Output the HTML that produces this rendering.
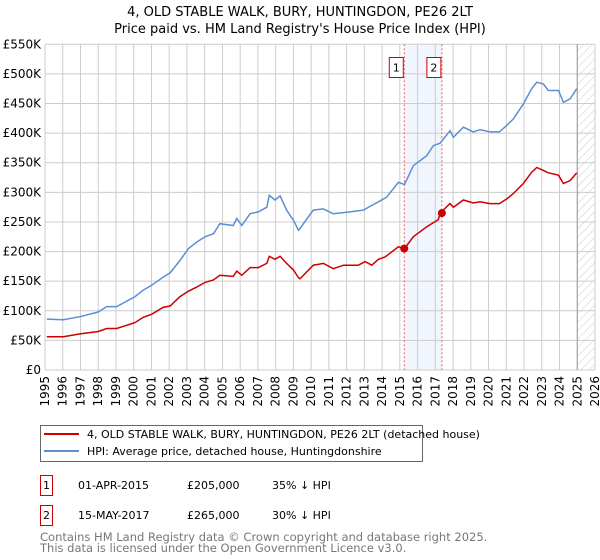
<!DOCTYPE html>
<html><head><meta charset="utf-8"><style>
body{margin:0;background:#fff;font-family:"Liberation Sans","DejaVu Sans",sans-serif;}
#wrap{position:relative;width:600px;height:560px;overflow:hidden;}
</style></head><body><div id="wrap">
<svg id="svg" width="600" height="560" xmlns="http://www.w3.org/2000/svg" font-family="DejaVu Sans, Liberation Sans, sans-serif">
<defs><pattern id="hatch" width="6" height="6" patternUnits="userSpaceOnUse" patternTransform="rotate(45)"><line x1="0" y1="0" x2="0" y2="6" stroke="#ccc" stroke-width="1"/></pattern></defs>
<text x="300" y="16" text-anchor="middle" font-size="13">4, OLD STABLE WALK, BURY, HUNTINGDON, PE26 2LT</text>
<text x="300" y="33" text-anchor="middle" font-size="13">Price paid vs. HM Land Registry's House Price Index (HPI)</text>
<g id="plot"></g>
<g>
<rect x="40.5" y="425.5" width="382" height="36" fill="#fff" stroke="#666"/>
<line x1="44" y1="434" x2="79" y2="434" stroke="#cc0000" stroke-width="2"/>
<text x="87" y="438" font-size="11">4, OLD STABLE WALK, BURY, HUNTINGDON, PE26 2LT (detached house)</text>
<line x1="44" y1="451" x2="79" y2="451" stroke="#5b8fd4" stroke-width="2"/>
<text x="87" y="455" font-size="11">HPI: Average price, detached house, Huntingdonshire</text>
</g>
<g font-size="11">
<rect x="40.5" y="475.5" width="12" height="20" fill="#fff" stroke="#cc0000"/><text x="46.5" y="489" text-anchor="middle">1</text>
<text x="78" y="489">01-APR-2015</text><text x="187" y="489">£205,000</text><text x="272" y="489">35% ↓ HPI</text>
<rect x="40.5" y="505.5" width="12" height="20" fill="#fff" stroke="#cc0000"/><text x="46.5" y="519" text-anchor="middle">2</text>
<text x="78" y="519">15-MAY-2017</text><text x="187" y="519">£265,000</text><text x="272" y="519">30% ↓ HPI</text>
</g>
<text x="40" y="541" font-size="11.5" fill="#777">Contains HM Land Registry data © Crown copyright and database right 2025.</text>
<text x="40" y="552" font-size="11.5" fill="#777">This data is licensed under the Open Government Licence v3.0.</text>
</svg></div>
<script>
const hpiYears=[1995.1,1996.03,1996.97,1998.0,1998.48,1999.04,2000.07,2000.54,2001.01,2001.67,2002.05,2002.61,2003.08,2003.55,2004.02,2004.49,2004.86,2005.61,2005.81,2006.09,2006.56,2007.02,2007.5,2007.64,2007.96,2008.25,2008.62,2009.0,2009.28,2009.37,2010.12,2010.69,2011.25,2012.19,2012.94,2013.42,2013.79,2014.26,2014.92,2015.26,2015.76,2016.52,2016.89,2017.27,2017.83,2018.02,2018.58,2019.14,2019.52,2020.08,2020.61,2021.03,2021.4,2021.96,2022.43,2022.72,2023.09,2023.37,2023.94,2024.22,2024.6,2024.97];
const hpiValues=[86,85,90,98,107,107,124,135,143,157,164,185,205,216,225,230,247,244,256,244,264,267,275,295,287,294,270,253,236,239,270,272,264,267,270,278,284,292,317,313,345,362,379,383,404,393,410,402,406,402,402,413,424,449,475,486,483,472,472,452,458,475];
const paidYears=[1995.1,1996.03,1996.97,1998.0,1998.48,1999.04,2000.07,2000.54,2001.01,2001.67,2002.05,2002.61,2003.08,2003.55,2004.02,2004.49,2004.86,2005.61,2005.81,2006.09,2006.56,2007.02,2007.5,2007.64,2007.96,2008.25,2008.62,2009.0,2009.28,2009.37,2010.12,2010.69,2011.25,2011.82,2012.66,2013.04,2013.42,2013.79,2014.17,2014.92,2015.26,2015.76,2016.52,2017.17,2017.27,2017.83,2018.02,2018.58,2019.14,2019.52,2020.08,2020.61,2021.03,2021.4,2021.96,2022.43,2022.72,2023.09,2023.37,2023.94,2024.22,2024.6,2024.97];
const paidValues=[56,56,61,65,70,70,80,89,94,106,108,124,133,140,148,152,160,158,167,160,173,173,180,192,187,192,180,169,156,154,177,180,171,177,177,183,177,187,191,208,205,225,242,254,265,281,275,287,282,284,281,281,289,298,315,334,342,337,333,329,315,320,333];
const saleYears=[2015.25,2017.37];
const saleValues=[205,265];
const saleLabels=["1","2"];
const yTicks=[0,50,100,150,200,250,300,350,400,450,500,550];
const yTickLabels=["£0","£50K","£100K","£150K","£200K","£250K","£300K","£350K","£400K","£450K","£500K","£550K"];
const xTicks=[1995,1996,1997,1998,1999,2000,2001,2002,2003,2004,2005,2006,2007,2008,2009,2010,2011,2012,2013,2014,2015,2016,2017,2018,2019,2020,2021,2022,2023,2024,2025,2026];
const dataEnd=2025.0;

const NS="http://www.w3.org/2000/svg";
const X0=45,X1=595,Y0=370,Y1=44.3;
const xs=y=>X0+(y-1995)/(2026-1995)*(X1-X0);
const ys=v=>Y0-v/550*(Y0-Y1);
const plot=document.getElementById('plot');
function mk(tag,attrs,parent){const e=document.createElementNS(NS,tag);for(const k in attrs)e.setAttribute(k,attrs[k]);(parent||plot).appendChild(e);return e;}

const band=mk('rect',{x:xs(saleYears[0]),y:Y1,width:xs(saleYears[1])-xs(saleYears[0]),height:Y0-Y1,fill:'#eef3fc',opacity:0.8});


const hat=mk('rect',{x:xs(dataEnd),y:Y1,width:X1-xs(dataEnd),height:Y0-Y1,fill:'url(#hatch)'});


yTicks.forEach((t,i)=>{
  const g=mk('line',{x1:X0,x2:X1,y1:ys(t),y2:ys(t),stroke:'#ccc','stroke-width':1});
  
  
  const l=mk('text',{x:X0-4,y:ys(t)+4,'text-anchor':'end','font-size':12});
  
  
  l.textContent=yTickLabels[i];
});
xTicks.forEach(t=>{
  const g=mk('line',{x1:xs(t),x2:xs(t),y1:Y1,y2:Y0,stroke:'#ccc','stroke-width':1});
  
  
  const l=mk('text',{x:0,y:0,'text-anchor':'end','font-size':12,transform:`translate(${xs(t)+4},${Y0+6}) rotate(-90)`});
  
  
  l.textContent=t;
});
const de=mk('line',{x1:xs(dataEnd),x2:xs(dataEnd),y1:Y1,y2:Y0,stroke:'#999','stroke-width':1});


saleYears.forEach((sy,i)=>{
  const v=mk('line',{x1:xs(sy),x2:xs(sy),y1:Y1,y2:Y0,stroke:'#f06060','stroke-dasharray':'2,2','stroke-width':1});
  
  
  const b=mk('rect',{x:xs(sy)-15,y:57.5,width:14,height:20,fill:'#fff',stroke:'#cc0000'});
  
  
  const t=mk('text',{x:xs(sy)-8,y:71.5,'text-anchor':'middle','font-size':11});
  
  
  t.textContent=saleLabels[i];
});
function path(xsArr,vArr){return xsArr.map((x,i)=>(i?'L':'M')+xs(x).toFixed(1)+','+ys(vArr[i]).toFixed(1)).join('');}
const hp=mk('path',{d:path(hpiYears,hpiValues),fill:'none',stroke:'#5b8fd4','stroke-width':1.5});


const pp=mk('path',{d:path(paidYears,paidValues),fill:'none',stroke:'#cc0000','stroke-width':1.5});


saleYears.forEach((sy,i)=>{
  const c=mk('circle',{cx:xs(sy),cy:ys(saleValues[i]),r:4,fill:'#cc0000'});
  
  
});
</script></body></html>
